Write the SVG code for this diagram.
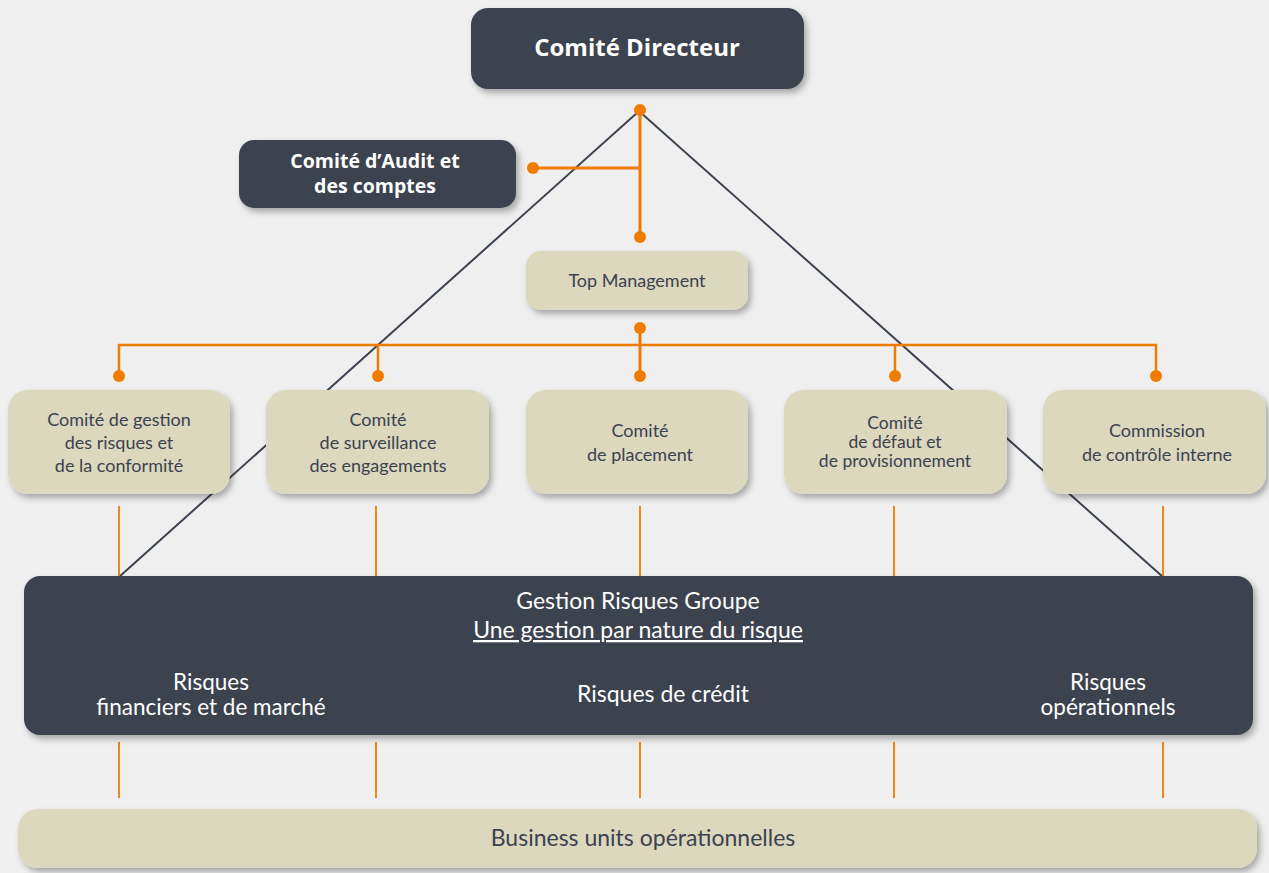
<svg xmlns="http://www.w3.org/2000/svg" width="1269" height="873" viewBox="0 0 1269 873">
  <defs>
    <filter id="shadow" x="-10%" y="-20%" width="130%" height="160%">
      <feDropShadow dx="3" dy="4" stdDeviation="3" flood-color="#000" flood-opacity="0.3"/>
    </filter>
    <style>
      .dark { fill: #3c4250; filter: url(#shadow); }
      .beige { fill: #dbd8bd; filter: url(#shadow); }
      .tw { font-family: Lato, "Open Sans", sans-serif; fill: #ffffff; text-anchor: middle; }
      .td { font-family: Lato, "Open Sans", sans-serif; fill: #3c4250; text-anchor: middle; }
      .bold { font-family: "Open Sans", Lato, sans-serif; font-weight: bold; }
      .org { stroke: #ef7b00; fill: none; }
      .dot { fill: #ef7b00; }
      .diag { stroke: #3c4250; stroke-width: 2; fill: none; }
      .s18 { font-size: 18px; }
      .s23 { font-size: 23px; }
      .s22 { font-size: 22.5px; }
    </style>
  </defs>
  <rect width="1269" height="873" fill="#efefef"/>

  <!-- connectors -->
  <g id="connectors">
    <line class="diag" x1="638" y1="112" x2="119" y2="577"/>
    <line class="diag" x1="640" y1="112" x2="1163" y2="577"/>
    <line class="org" stroke-width="3" x1="640" y1="110" x2="640" y2="237"/>
    <line class="org" stroke-width="3" x1="533" y1="168" x2="640" y2="168"/>
    <circle class="dot" cx="640" cy="110" r="6"/>
    <circle class="dot" cx="533" cy="168" r="6"/>
    <circle class="dot" cx="640" cy="237" r="6"/>
    <line class="org" stroke-width="3" x1="640" y1="328" x2="640" y2="376"/>
    <polyline class="org" stroke-width="2.5" points="119,376 119,345 1156,345 1156,376"/>
    <line class="org" stroke-width="2.5" x1="378" y1="345" x2="378" y2="376"/>
    <line class="org" stroke-width="2.5" x1="895" y1="345" x2="895" y2="376"/>
    <circle class="dot" cx="640" cy="328" r="6"/>
    <circle class="dot" cx="119" cy="376" r="6"/>
    <circle class="dot" cx="378" cy="376" r="6"/>
    <circle class="dot" cx="640" cy="376" r="6"/>
    <circle class="dot" cx="895" cy="376" r="6"/>
    <circle class="dot" cx="1156" cy="376" r="6"/>
    <g class="org" stroke-width="1.8">
      <line x1="119" y1="506" x2="119" y2="577"/>
      <line x1="376" y1="506" x2="376" y2="577"/>
      <line x1="640" y1="506" x2="640" y2="577"/>
      <line x1="894" y1="506" x2="894" y2="577"/>
      <line x1="1163" y1="506" x2="1163" y2="577"/>
      <line x1="119" y1="742" x2="119" y2="798"/>
      <line x1="376" y1="742" x2="376" y2="798"/>
      <line x1="640" y1="742" x2="640" y2="798"/>
      <line x1="894" y1="742" x2="894" y2="798"/>
      <line x1="1163" y1="742" x2="1163" y2="798"/>
    </g>
  </g>

  <g id="comite-directeur">
    <rect class="dark" x="471" y="8" width="333" height="81" rx="17"/>
    <text class="tw bold" x="637" y="56" font-size="24">Comité Directeur</text>
  </g>

  <g id="comite-audit">
    <rect class="dark" x="239" y="140" width="277" height="68" rx="15"/>
    <text class="tw bold" x="375" y="168" font-size="19.5">Comité d’Audit et</text>
    <text class="tw bold" x="375" y="193" font-size="19.5">des comptes</text>
  </g>

  <g id="top-management">
    <rect class="beige" x="526" y="251" width="222" height="59" rx="15"/>
    <text class="td s18" x="637" y="287">Top Management</text>
  </g>

  <g id="comite-risques">
    <rect class="beige" x="8" y="390" width="222" height="104" rx="20"/>
    <text class="td s18" x="119" y="426">Comité de gestion</text>
    <text class="td s18" x="119" y="449">des risques et</text>
    <text class="td s18" x="119" y="472">de la conformité</text>
  </g>

  <g id="comite-surveillance">
    <rect class="beige" x="266" y="390" width="223" height="104" rx="20"/>
    <text class="td s18" x="378" y="426">Comité</text>
    <text class="td s18" x="378" y="449">de surveillance</text>
    <text class="td s18" x="378" y="472">des engagements</text>
  </g>

  <g id="comite-placement">
    <rect class="beige" x="526" y="390" width="222" height="104" rx="20"/>
    <text class="td s18" x="640" y="437">Comité</text>
    <text class="td s18" x="640" y="461">de placement</text>
  </g>

  <g id="comite-defaut">
    <rect class="beige" x="784" y="390" width="223" height="104" rx="20"/>
    <text class="td" font-size="17.5" x="895" y="429">Comité</text>
    <text class="td" font-size="17.5" x="895" y="448">de défaut et</text>
    <text class="td" font-size="17.5" x="895" y="467">de provisionnement</text>
  </g>

  <g id="commission-controle">
    <rect class="beige" x="1043" y="390" width="223" height="104" rx="20"/>
    <text class="td s18" x="1157" y="437">Commission</text>
    <text class="td s18" x="1157" y="461">de contrôle interne</text>
  </g>

  <g id="gestion-risques-groupe">
    <rect class="dark" x="24" y="576" width="1229" height="159" rx="16"/>
    <text class="tw s23" x="638" y="609">Gestion Risques Groupe</text>
    <text class="tw s23" x="638" y="638" text-decoration="underline">Une gestion par nature du risque</text>
    <text class="tw s22" x="211" y="690">Risques</text>
    <text class="tw s22" x="211" y="715">financiers et de marché</text>
    <text class="tw s23" x="663" y="702">Risques de crédit</text>
    <text class="tw s22" x="1108" y="690">Risques</text>
    <text class="tw s22" x="1108" y="715">opérationnels</text>
  </g>

  <g id="business-units">
    <rect class="beige" x="18" y="809" width="1239" height="59" rx="20"/>
    <text class="td s23" x="643" y="846">Business units opérationnelles</text>
  </g>
</svg>
